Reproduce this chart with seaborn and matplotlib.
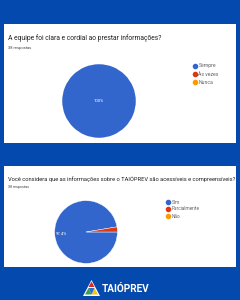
import matplotlib
matplotlib.use("Agg")
import matplotlib.pyplot as plt
import seaborn as sns
from matplotlib.patches import Rectangle, Polygon
from matplotlib.lines import Line2D

# data
title1 = "A equipe foi clara e cordial ao prestar informações?"
labels1 = ["Sempre", "Às vezes", "Nunca"]
values1 = [38, 0, 0]

title2 = "Você considera que as informações sobre o TAIÓPREV são acessíveis e compreensíveis?"
labels2 = ["Sim", "Parcialmente", "Não"]
values2 = [37, 1, 0]

n_respostas = "38 respostas"
brand = "TAIÓPREV"

sns.set_theme(style="white")
plt.rcParams['font.family'] = ['Roboto', 'DejaVu Sans']

BG = "#0349ae"
colors = ["#3366cc", "#dc3912", "#ff9900"]
W, H = 240, 300

fig = plt.figure(figsize=(W / 100, H / 100), dpi=100, facecolor=BG)


def fx(px):
    return px / W


def fy(py):
    return 1 - py / H


def card(x0, y0, x1, y1):
    fig.patches.append(Rectangle((fx(x0), fy(y1)), fx(x1 - x0), (y1 - y0) / H,
                                 transform=fig.transFigure, facecolor="white",
                                 edgecolor="none", zorder=-2))


def pct_fmt(p):
    return f"{p:.1f}%".replace(".0%", "%") if p > 5 else ""


def draw_pie(values, cx, cy, r, pctdist, counterclock):
    ax = fig.add_axes([fx(cx - r), fy(cy + r), fx(2 * r), 2 * r / H])
    ax.patch.set_alpha(0)
    wedges, texts, autotexts = ax.pie(values, colors=colors, startangle=0,
                                      counterclock=counterclock,
                                      autopct=pct_fmt, pctdistance=pctdist,
                                      wedgeprops=dict(linewidth=0.3, edgecolor="white"),
                                      textprops=dict(color="white", fontsize=3.0))
    # zero-sized slices should not leave an edge line
    for w, v in zip(wedges, values):
        if v == 0 or v == sum(values):
            w.set_linewidth(0)
    ax.set_xlim(-1.02, 1.02)
    ax.set_ylim(-1.02, 1.02)
    ax.set_aspect("equal")
    ax.axis("off")
    return ax


def legend(labels, x, y, step, fs):
    for i, lab in enumerate(labels):
        fig.add_artist(Line2D([fx(x)], [fy(y + i * step)], marker="o", markersize=3.0,
                              color=colors[i], linestyle="none",
                              transform=fig.transFigure))
        fig.text(fx(x + 4.0), fy(y + i * step), lab, fontsize=fs, color="#5f6368",
                 va="center", ha="left")


# card 1
card(4, 24, 236, 143)
fig.text(fx(7.5), fy(38.5), title1, fontsize=4.85, color="#202124", va="center")
fig.text(fx(7.5), fy(47.5), n_respostas, fontsize=2.9, color="#444444", va="center")
draw_pie(values1, 99, 101, 37.5, 0.0, True)
legend(labels1, 194.5, 66, 8, 3.7)

# card 2
card(4, 166, 236, 267)
fig.text(fx(7.5), fy(179), title2, fontsize=4.15, color="#202124", va="center")
fig.text(fx(7.5), fy(187), n_respostas, fontsize=2.6, color="#444444", va="center")
draw_pie(values2, 86, 232, 32, 0.8, False)
legend(labels2, 168, 202, 7, 3.4)

# logo
tri = [(83, 296), (91.5, 280), (100, 296)]
fig.patches.append(Polygon([(fx(a), fy(b)) for a, b in tri], closed=True,
                           transform=fig.transFigure, facecolor="white", edgecolor="none"))
parts = [
    ([(88.5, 287), (91.5, 281.5), (94.5, 287)], "#d92a2a"),
    ([(85, 294.5), (88.5, 288), (91.5, 294.5)], "#3aa14a"),
    ([(91.5, 294.5), (94.5, 288), (98, 294.5)], "#f5c518"),
    ([(88.5, 288), (94.5, 288), (91.5, 294.5)], "#2a6fd6"),
]
for pts, c in parts:
    fig.patches.append(Polygon([(fx(a), fy(b)) for a, b in pts], closed=True,
                               transform=fig.transFigure, facecolor=c, edgecolor="none"))
fig.text(fx(101.5), fy(288.5), brand, fontsize=7.2, fontweight="bold", color="white",
         va="center", ha="left")

fig.savefig("out.png", dpi=100, facecolor=BG)
